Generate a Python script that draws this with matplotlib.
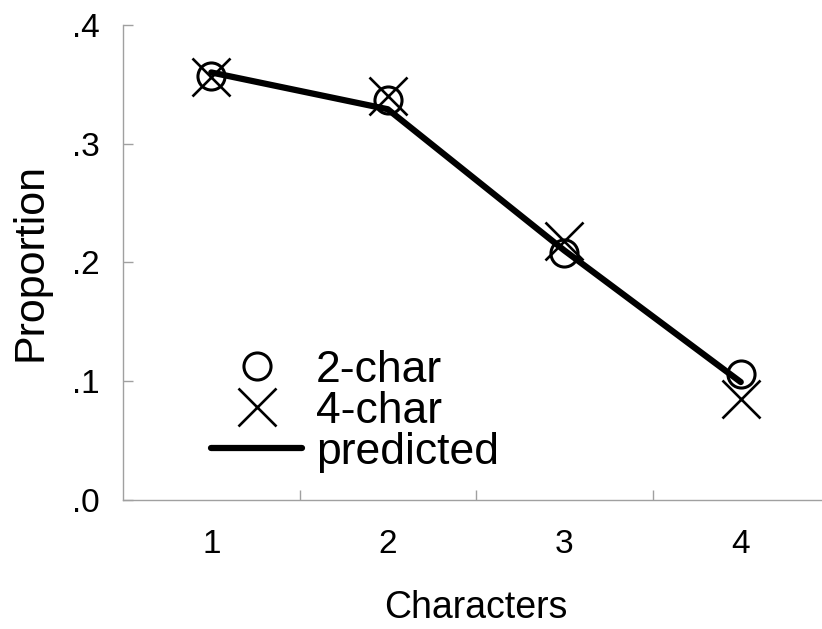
import matplotlib.pyplot as plt
from matplotlib.ticker import FixedLocator

plt.rcParams['font.family'] = ['Liberation Sans', 'DejaVu Sans']

characters = [1, 2, 3, 4]
two_char = [0.357, 0.337, 0.208, 0.106]
four_char = [0.356, 0.340, 0.218, 0.085]
predicted = [0.360, 0.329, 0.210, 0.099]
y_ticks = [0.0, 0.1, 0.2, 0.3, 0.4]
y_tick_labels = ['.0', '.1', '.2', '.3', '.4']

fig = plt.figure(figsize=(8.22, 6.29), dpi=100)
ax = fig.add_axes([123 / 822, 1 - 499.5 / 629, 706 / 822, 474.5 / 629])

ax.plot(characters, predicted, color='black', lw=4.5, solid_capstyle='round',
        label='predicted', zorder=3)
ax.plot(characters, two_char, ls='none', marker='o', ms=19.5, mfc='none',
        mec='black', mew=2.2, label='2-char', zorder=4)
ax.plot(characters, four_char, ls='none', marker='x', ms=28, mec='black',
        mew=1.9, label='4-char', zorder=4)

ax.set_xlim(0.5, 4.5)
ax.set_ylim(0, 0.4)
ax.set_xticks(characters)
ax.xaxis.set_minor_locator(FixedLocator([1.5, 2.5, 3.5]))
ax.set_yticks(y_ticks)
ax.set_yticklabels(y_tick_labels)

for side in ['top', 'right']:
    ax.spines[side].set_visible(False)
for side in ['left', 'bottom']:
    ax.spines[side].set_color('#a0a0a0')
    ax.spines[side].set_linewidth(1.0)

ax.tick_params(axis='x', which='major', length=0, pad=21, labelsize=24)
ax.tick_params(axis='x', which='minor', direction='in', length=7,
               color='#a0a0a0', width=1.0)
ax.tick_params(axis='y', direction='in', length=7, color='#a0a0a0',
               width=1.0, pad=17, labelsize=24)

ax.set_xlabel('Characters', fontsize=27, labelpad=22)
ax.set_ylabel('Proportion', fontsize=31, labelpad=15)

handles, labels = ax.get_legend_handles_labels()
order = [1, 2, 0]
ax.legend([handles[i] for i in order], [labels[i] for i in order],
          loc='lower left', bbox_to_anchor=(0.1, 0.019), frameon=False,
          fontsize=32, handlelength=2.05, handletextpad=0.3,
          labelspacing=0.0, borderaxespad=0)

fig.savefig('out.png', dpi=100)
